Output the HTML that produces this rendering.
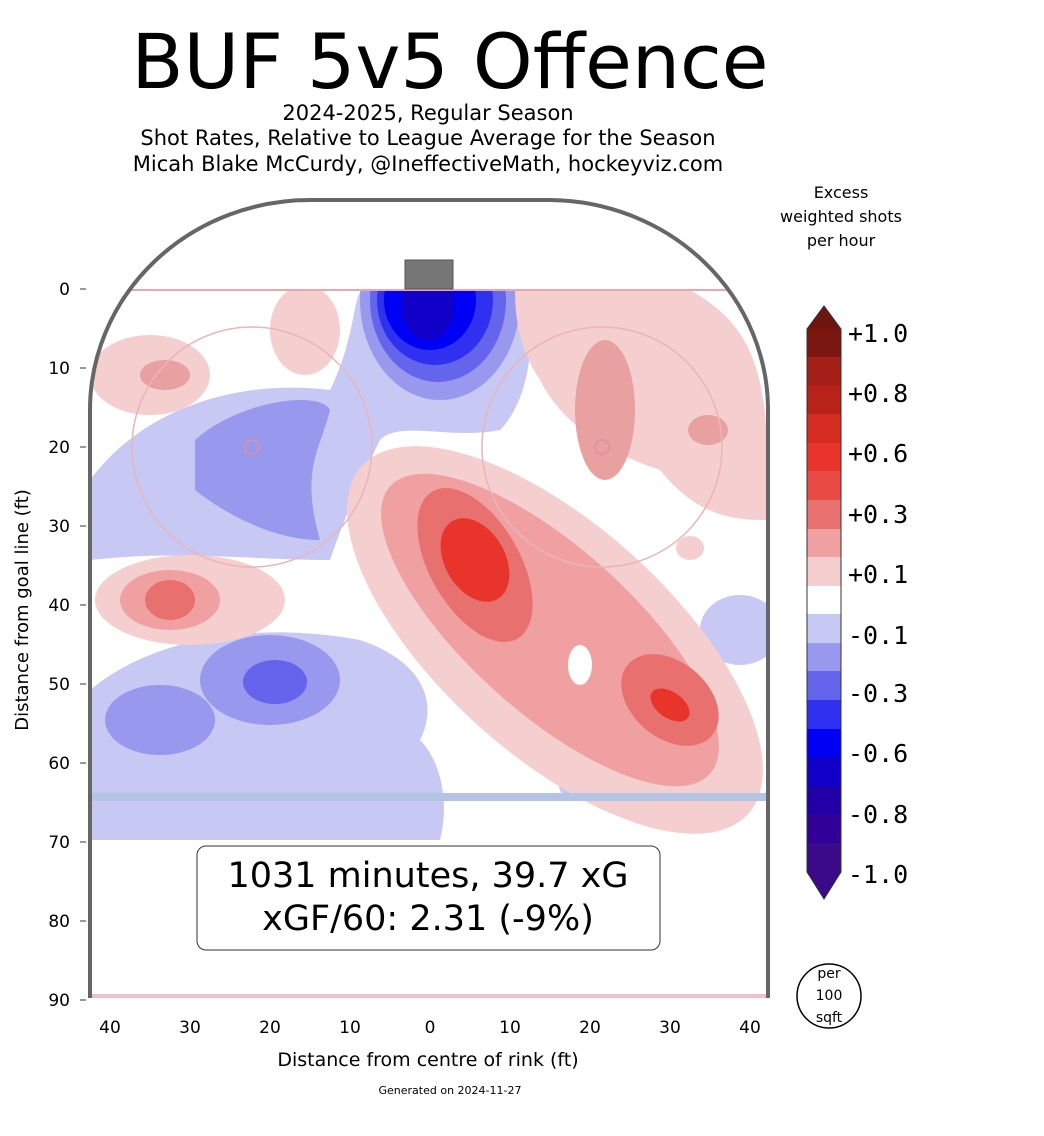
<!DOCTYPE html>
<html><head><meta charset="utf-8"><style>
body{margin:0;background:#fff;width:1044px;height:1136px;overflow:hidden}
svg{display:block;font-family:"DejaVu Sans","Liberation Sans",sans-serif}
</style></head><body>
<svg width="1044" height="1136" viewBox="0 0 1044 1136">
<defs>
<clipPath id="rink"><path d="M90,998 V410 A220 210 0 0 1 310 200 H550 A220 210 0 0 1 768 410 V998 Z"/></clipPath>
<clipPath id="below"><rect x="80" y="290" width="700" height="720"/></clipPath>
</defs>
<text x="450" y="88" font-size="76" text-anchor="middle">BUF 5v5 Offence</text>
<text x="428" y="120" font-size="21" text-anchor="middle">2024-2025, Regular Season</text>
<text x="428" y="145" font-size="21" text-anchor="middle">Shot Rates, Relative to League Average for the Season</text>
<text x="428" y="171" font-size="21" text-anchor="middle">Micah Blake McCurdy, @IneffectiveMath, hockeyviz.com</text>

<g clip-path="url(#rink)">
<rect x="85" y="195" width="690" height="810" fill="#fff"/>
<g clip-path="url(#below)">
<path d="M90,480 C150,400 250,380 330,390 C360,330 350,285 370,285 L520,285 C540,330 530,400 500,430 C450,440 400,420 380,440 C360,480 340,530 330,560 C250,560 180,550 90,560 Z" fill="#c8c8f5"/>
<path d="M195,440 C240,400 320,390 330,410 C320,450 300,470 320,540 C270,540 220,510 195,490 Z" fill="#9898ee"/>
<path d="M90,690 C150,640 250,620 360,640 C420,660 440,700 420,740 C440,760 450,800 440,840 L90,840 Z" fill="#c8c8f5"/>
<ellipse cx="270" cy="680" rx="70" ry="45" fill="#9898ee"/>
<ellipse cx="160" cy="720" rx="55" ry="35" fill="#9898ee"/>
<ellipse cx="275" cy="682" rx="32" ry="22" fill="#6464ec"/>
<ellipse cx="740" cy="630" rx="40" ry="35" fill="#c8c8f5"/>
<ellipse cx="572" cy="780" rx="14" ry="20" fill="#c8c8f5"/>
<ellipse cx="440" cy="300" rx="80" ry="100" fill="#9898ee"/>
<ellipse cx="438" cy="300" rx="68" ry="82" fill="#6464ec"/>
<ellipse cx="435" cy="300" rx="58" ry="65" fill="#3030f0"/>
<ellipse cx="430" cy="300" rx="46" ry="50" fill="#0000f5"/>
<ellipse cx="428" cy="305" rx="26" ry="35" fill="#1000c8"/>
<path d="M515,290 L690,290 C760,330 770,380 768,520 C740,520 700,520 660,470 C600,450 560,420 540,380 C520,350 515,320 515,290 Z" fill="#f5cfcf"/>
<ellipse cx="605" cy="410" rx="30" ry="70" fill="#e8a0a0"/>
<ellipse cx="708" cy="430" rx="20" ry="15" fill="#e8a0a0"/>
<ellipse cx="690" cy="548" rx="14" ry="12" fill="#f5cfcf"/>
<ellipse cx="150" cy="375" rx="60" ry="40" fill="#f5cfcf"/>
<ellipse cx="165" cy="375" rx="25" ry="15" fill="#e8a0a0"/>
<ellipse cx="305" cy="330" rx="35" ry="45" fill="#f5cfcf"/>
</g>
<ellipse cx="190" cy="600" rx="95" ry="45" fill="#f5cfcf"/>
<ellipse cx="170" cy="600" rx="50" ry="30" fill="#f0a0a0"/>
<ellipse cx="170" cy="600" rx="25" ry="20" fill="#e8706e"/>
<ellipse cx="555" cy="640" rx="260" ry="115" transform="rotate(42 555 640)" fill="#f5cfcf"/>
<ellipse cx="550" cy="630" rx="215" ry="82" transform="rotate(42 550 630)" fill="#f0a0a0"/>
<ellipse cx="475" cy="565" rx="85" ry="45" transform="rotate(60 475 565)" fill="#e8706e"/>
<ellipse cx="670" cy="700" rx="55" ry="38" transform="rotate(40 670 700)" fill="#e8706e"/>
<ellipse cx="475" cy="560" rx="45" ry="30" transform="rotate(60 475 560)" fill="#e8342a"/>
<ellipse cx="670" cy="705" rx="22" ry="13" transform="rotate(35 670 705)" fill="#e8342a"/>
<ellipse cx="580" cy="665" rx="12" ry="20" fill="#fff"/>
<line x1="85" y1="290" x2="775" y2="290" stroke="#e8a8b0" stroke-width="2"/>
<line x1="85" y1="797" x2="775" y2="797" stroke="#b4c4e4" stroke-width="8"/>
<line x1="85" y1="997" x2="775" y2="997" stroke="#f0c0c8" stroke-width="6"/>
<circle cx="252" cy="447" r="120" fill="none" stroke="#eab4b8" stroke-width="1.5"/>
<circle cx="602" cy="447" r="120" fill="none" stroke="#eab4b8" stroke-width="1.5"/>
<circle cx="252" cy="447" r="7" fill="none" stroke="#e09098" stroke-width="1.5"/>
<circle cx="602" cy="447" r="7" fill="none" stroke="#e09098" stroke-width="1.5"/>
</g>
<rect x="405" y="260" width="48" height="29" fill="#777" stroke="#555"/>
<path d="M90,998 V410 A220 210 0 0 1 310 200 H550 A220 210 0 0 1 768 410 V998" fill="none" stroke="#666" stroke-width="4"/>

<rect x="197" y="846" width="463" height="104" rx="9" fill="#fff" stroke="#333" stroke-width="1"/>
<text x="428" y="887" font-size="35" text-anchor="middle">1031 minutes, 39.7 xG</text>
<text x="428" y="930" font-size="35" text-anchor="middle">xGF/60: 2.31 (-9%)</text>

<g font-size="17" text-anchor="end">
<text x="70" y="295">0</text><text x="70" y="374">10</text><text x="70" y="453">20</text><text x="70" y="532">30</text><text x="70" y="611">40</text><text x="70" y="690">50</text><text x="70" y="769">60</text><text x="70" y="848">70</text><text x="70" y="927">80</text><text x="70" y="1006">90</text>
</g>
<g stroke="#333"><line x1="80" y1="289" x2="86" y2="289"/><line x1="80" y1="368" x2="86" y2="368"/><line x1="80" y1="447" x2="86" y2="447"/><line x1="80" y1="526" x2="86" y2="526"/><line x1="80" y1="605" x2="86" y2="605"/><line x1="80" y1="684" x2="86" y2="684"/><line x1="80" y1="763" x2="86" y2="763"/><line x1="80" y1="842" x2="86" y2="842"/><line x1="80" y1="921" x2="86" y2="921"/><line x1="80" y1="1000" x2="86" y2="1000"/></g>
<text transform="translate(28 610) rotate(-90)" font-size="18" text-anchor="middle">Distance from goal line (ft)</text>
<g font-size="17" text-anchor="middle">
<text x="110" y="1033">40</text><text x="190" y="1033">30</text><text x="270" y="1033">20</text><text x="350" y="1033">10</text><text x="430" y="1033">0</text><text x="510" y="1033">10</text><text x="590" y="1033">20</text><text x="670" y="1033">30</text><text x="750" y="1033">40</text>
</g>
<text x="428" y="1066" font-size="19" text-anchor="middle">Distance from centre of rink (ft)</text>
<text x="450" y="1094" font-size="11" text-anchor="middle">Generated on 2024-11-27</text>

<g font-size="16" text-anchor="middle"><text x="841" y="198">Excess</text><text x="841" y="222">weighted shots</text><text x="841" y="246">per hour</text></g>
<polygon points="807,329 824,306 841,329" fill="#6e1510"/>
<rect x="807" y="329" width="34" height="29" fill="#7a1710"/>
<rect x="807" y="357" width="34" height="29" fill="#a51e17"/>
<rect x="807" y="386" width="34" height="29" fill="#b72219"/>
<rect x="807" y="414" width="34" height="29" fill="#d42c20"/>
<rect x="807" y="443" width="34" height="29" fill="#e8342a"/>
<rect x="807" y="471" width="34" height="29" fill="#e84a44"/>
<rect x="807" y="500" width="34" height="29" fill="#e8706e"/>
<rect x="807" y="529" width="34" height="29" fill="#f0a0a0"/>
<rect x="807" y="557" width="34" height="29" fill="#f5cfcf"/>
<rect x="807" y="586" width="34" height="29" fill="#ffffff"/>
<rect x="807" y="614" width="34" height="29" fill="#c8c8f5"/>
<rect x="807" y="643" width="34" height="29" fill="#9898ee"/>
<rect x="807" y="671" width="34" height="29" fill="#6464ec"/>
<rect x="807" y="700" width="34" height="29" fill="#3030f0"/>
<rect x="807" y="729" width="34" height="29" fill="#0000f5"/>
<rect x="807" y="757" width="34" height="29" fill="#1000c8"/>
<rect x="807" y="786" width="34" height="29" fill="#2200a8"/>
<rect x="807" y="814" width="34" height="29" fill="#300098"/>
<rect x="807" y="843" width="34" height="29" fill="#3a0a88"/>
<polygon points="807,872 824,899 841,872" fill="#3a0a88"/>
<path d="M807,329 L824,306 L841,329 V872 L824,899 L807,872 Z" fill="none" stroke="#333" stroke-width="1"/>
<g font-family="'DejaVu Sans Mono','Liberation Mono',monospace" font-size="25">
<text x="848" y="342">+1.0</text><text x="848" y="402">+0.8</text><text x="848" y="462">+0.6</text><text x="848" y="523">+0.3</text><text x="848" y="583">+0.1</text><text x="848" y="644">-0.1</text><text x="848" y="702">-0.3</text><text x="848" y="762">-0.6</text><text x="848" y="823">-0.8</text><text x="848" y="883">-1.0</text>
</g>
<circle cx="829" cy="996" r="32" fill="#fff" stroke="#000" stroke-width="1.5"/>
<g font-size="14" text-anchor="middle"><text x="829" y="978">per</text><text x="829" y="1000">100</text><text x="829" y="1022">sqft</text></g>
</svg>
</body></html>
